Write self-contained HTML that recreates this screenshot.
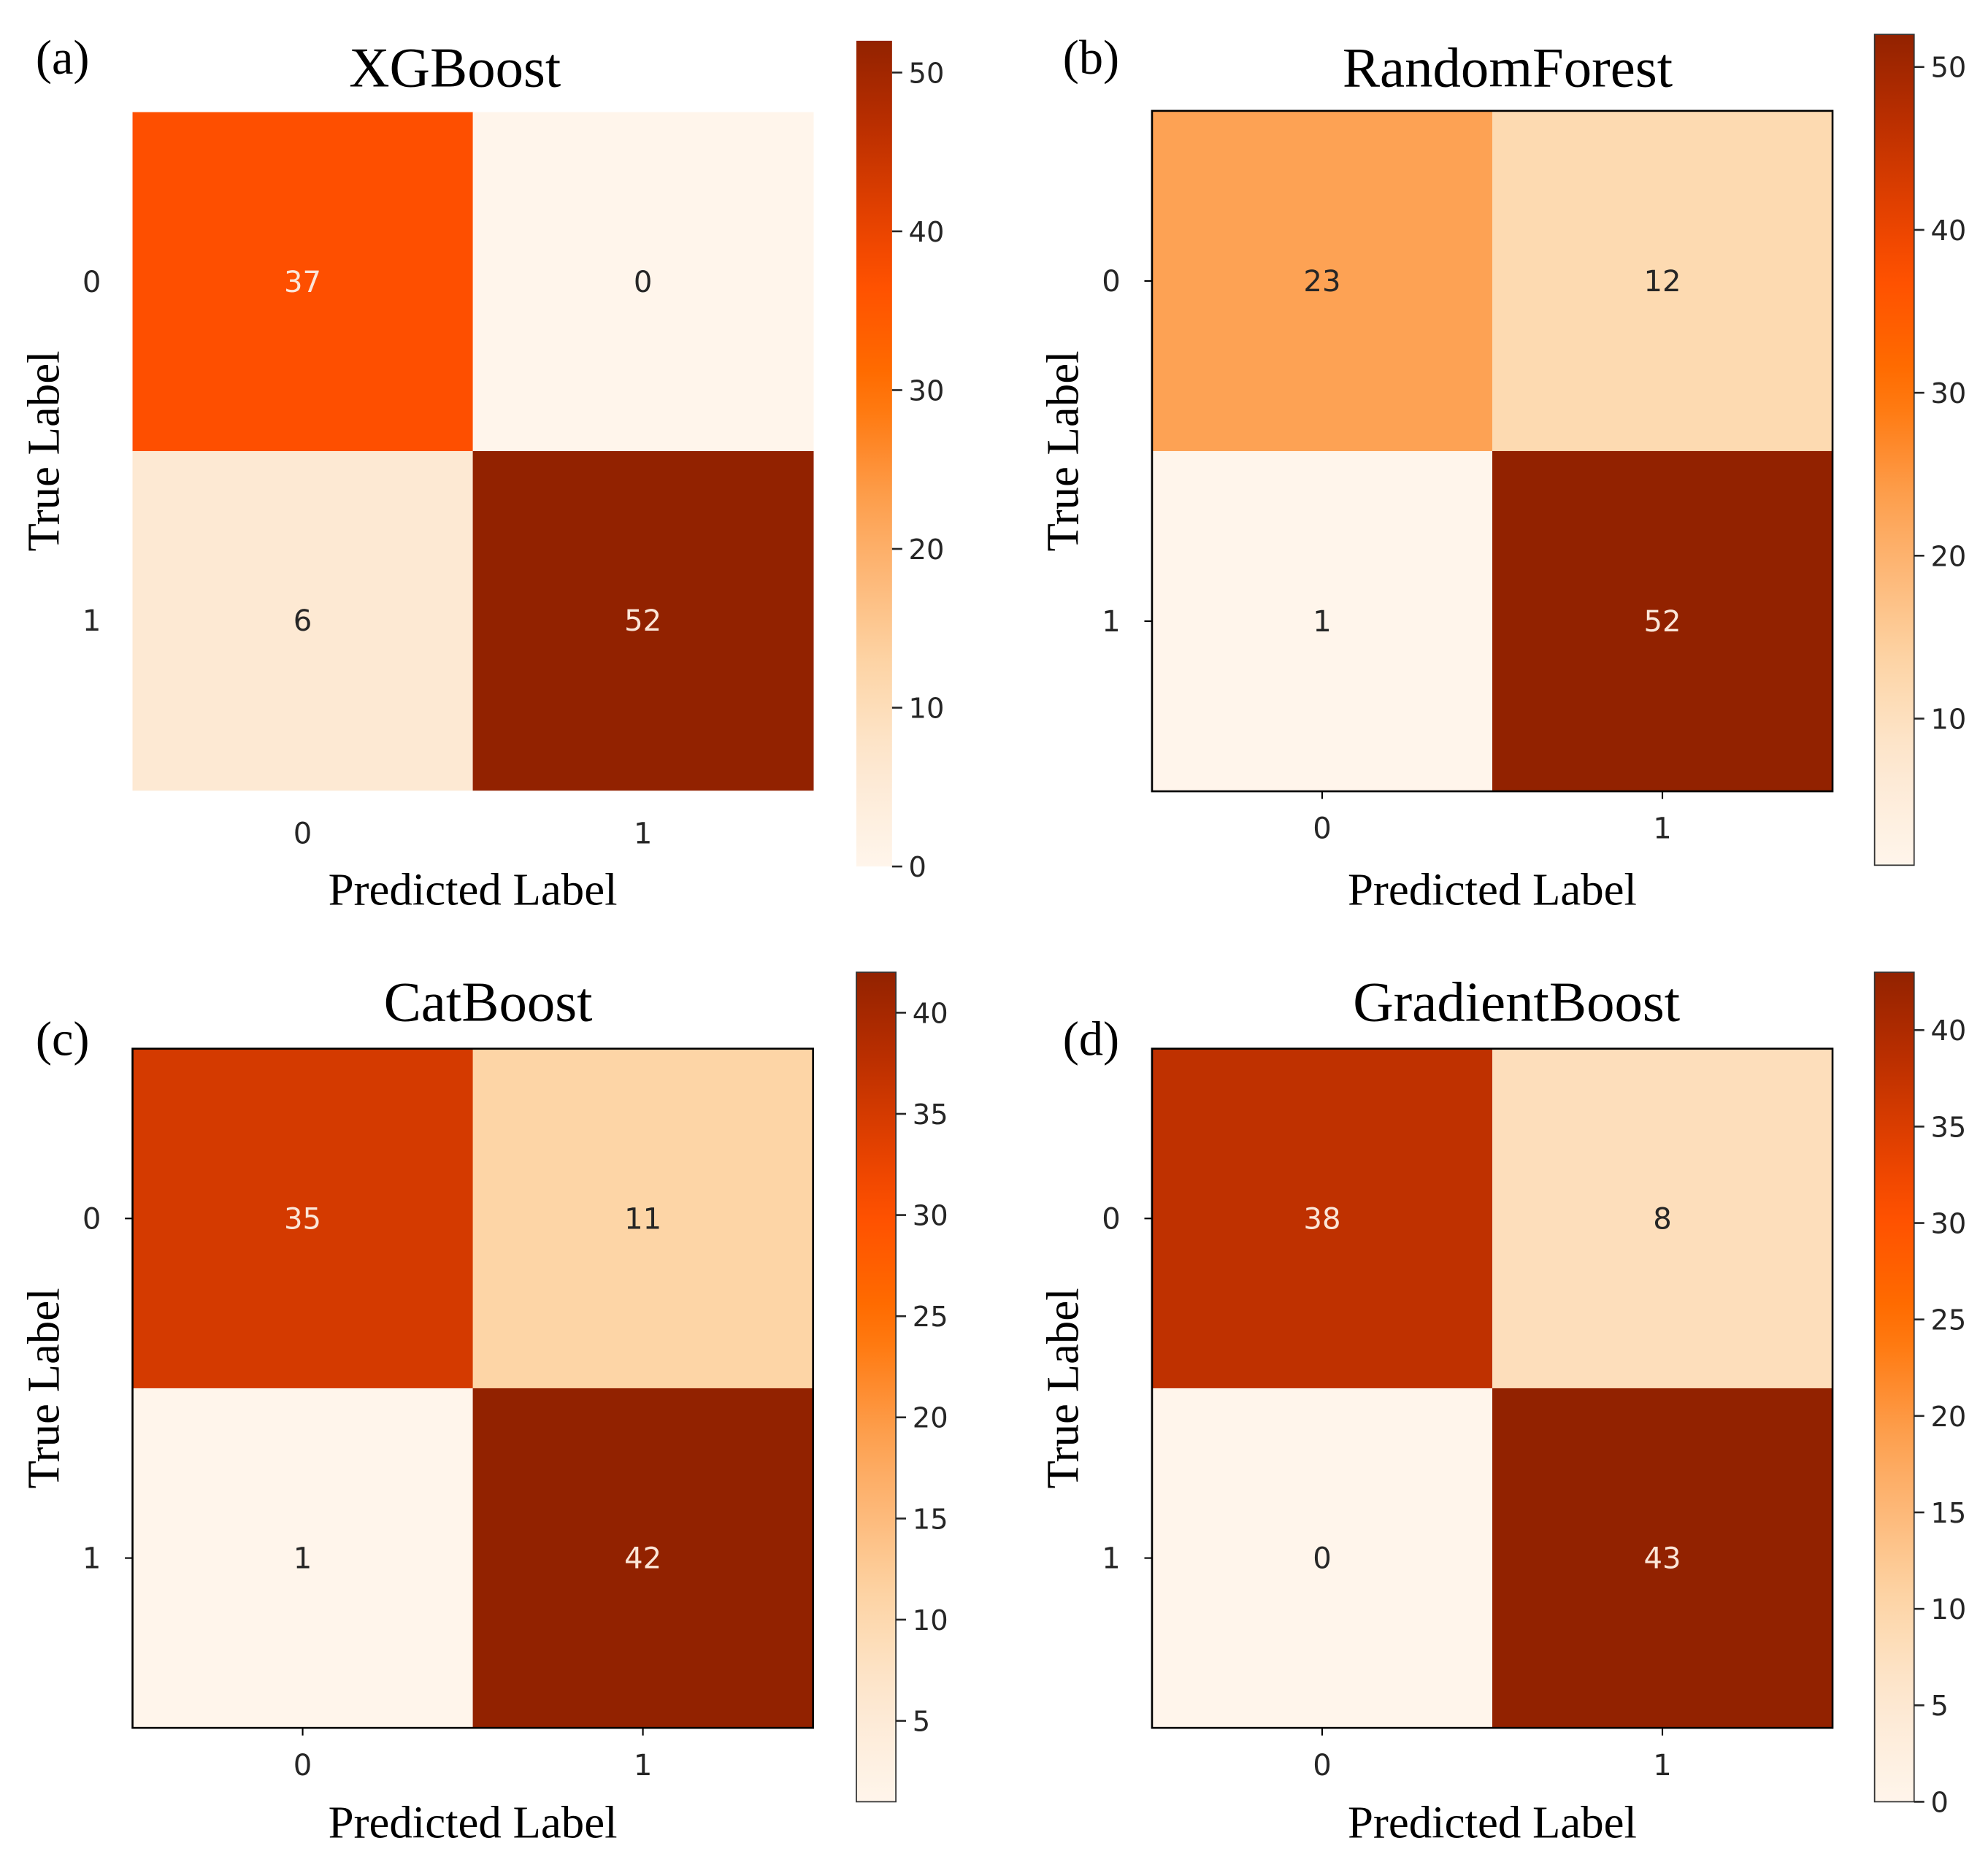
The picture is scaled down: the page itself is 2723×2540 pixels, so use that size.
<!DOCTYPE html>
<html><head><meta charset="utf-8"><style>
html,body{margin:0;padding:0;background:#fff;}
svg{display:block;}
</style></head><body>
<svg id="fig" xmlns="http://www.w3.org/2000/svg" width="2723" height="2540" viewBox="0 0 1560 1455" preserveAspectRatio="none">
<defs id="defs"></defs>
</svg>
<script>
// ---- data ----
const classLabels = ["0", "1"];
const titles = ["XGBoost", "RandomForest", "CatBoost", "GradientBoost"];
const panelLetters = ["(a)", "(b)", "(c)", "(d)"];
const cmXGB = [[37, 0], [6, 52]];
const cmRF = [[23, 12], [1, 52]];
const cmCat = [[35, 11], [1, 42]];
const cmGB = [[38, 8], [0, 43]];
const ticksXGB = [0, 10, 20, 30, 40, 50];
const ticksRF = [10, 20, 30, 40, 50];
const ticksCat = [5, 10, 15, 20, 25, 30, 35, 40];
const ticksGB = [0, 5, 10, 15, 20, 25, 30, 35, 40];

// ---- layout (not data) ----
const layouts = [
  {hx:104,hy:88,hw:534,hh:532,cx:672,cy:32,cw:28,ch:648,tx:357,ty:68,lx:28,ly:58,frame:false,xl:662,yl:72,data:cmXGB,ticks:ticksXGB},
  {hx:904,hy:87,hw:534,hh:534,cx:1471,cy:27,cw:31,ch:652,tx:1183,ty:68,lx:834,ly:58,frame:true,xl:658,yl:872,data:cmRF,ticks:ticksRF},
  {hx:104,hy:823,hw:534,hh:533,cx:672,cy:763,cw:31,ch:651,tx:383,ty:801,lx:28,ly:828,frame:true,xl:1393,yl:72,data:cmCat,ticks:ticksCat},
  {hx:904,hy:823,hw:534,hh:533,cx:1471,cy:763,cw:31,ch:651,tx:1190,ty:801,lx:834,ly:828,frame:true,xl:1393,yl:872,data:cmGB,ticks:ticksGB}
];

const stops = [[0,[255,245,235]],[0.12,[253,232,210]],[0.24,[253,214,168]],[0.44,[253,160,80]],[0.58,[255,112,0]],[0.71,[255,79,0]],[0.83,[212,58,0]],[0.9,[185,46,0]],[1,[146,34,0]]];
function cmap(t){
  t=Math.max(0,Math.min(1,t));
  for(let i=1;i<stops.length;i++){
    if(t<=stops[i][0]){
      const a=stops[i-1],b=stops[i],f=(t-a[0])/(b[0]-a[0]);
      const c=a[1].map((v,k)=>Math.round(v+(b[1][k]-v)*f));
      return `rgb(${c[0]},${c[1]},${c[2]})`;
    }
  }
  return 'rgb(146,34,0)';
}
const NS="http://www.w3.org/2000/svg";
const svg=document.getElementById('fig');
const defs=document.getElementById('defs');
function mk(tag,attrs,parent){const e=document.createElementNS(NS,tag);for(const k in attrs)e.setAttribute(k,attrs[k]);(parent||svg).appendChild(e);return e;}
const SERIF='"Liberation Serif", serif', SANS='"DejaVu Sans", "Liberation Sans", sans-serif';

layouts.forEach((L,p)=>{
  const g=mk('g',{});
  
  
  const flat=L.data.flat();
  const vmin=Math.min(...flat), vmax=Math.max(...flat);
  const norm=v=>(v-vmin)/(vmax-vmin);
  const cw=L.hw/2, chh=L.hh/2;
  L.data.forEach((row,r)=>row.forEach((v,c)=>{
    const rect=mk('rect',{x:L.hx+c*cw,y:L.hy+r*chh,width:cw+0.5,height:chh+0.5,fill:cmap(norm(v))},g);
    
    
    const t=mk('text',{x:L.hx+(c+0.5)*cw,y:L.hy+(r+0.5)*chh+8,'text-anchor':'middle','font-family':SANS,'font-size':23,fill:norm(v)>0.5?'#fbe6d8':'#262626'},g);
    t.textContent=v;
    
    
  }));
  if(L.frame){
    const f=mk('rect',{x:L.hx,y:L.hy,width:L.hw,height:L.hh,fill:'none',stroke:'#000','stroke-width':1.5},g);
    
    
  }
  classLabels.forEach((lab,i)=>{
    const xx=L.hx+(i+0.5)*cw, yy=L.hy+(i+0.5)*chh;
    if(L.frame){
      mk('line',{x1:xx,y1:L.hy+L.hh,x2:xx,y2:L.hy+L.hh+6,stroke:'#000','stroke-width':1.2},g);
      mk('line',{x1:L.hx-6,y1:yy,x2:L.hx,y2:yy,stroke:'#000','stroke-width':1.2},g);
    }
    const tx=mk('text',{x:xx,y:L.xl,'text-anchor':'middle','font-family':SANS,'font-size':23,fill:'#262626'},g);
    tx.textContent=lab;
    
    
    const ty=mk('text',{x:L.yl,y:yy+8,'text-anchor':'middle','font-family':SANS,'font-size':23,fill:'#262626'},g);
    ty.textContent=lab;
    
    
  });
  const xt=mk('text',{x:L.hx+L.hw/2,y:L.hy+L.hh+90+(L.hy>500?-3:0)+(p==0?0:-1),'text-anchor':'middle','font-family':SERIF,'font-size':36,fill:'#000'},g);
  xt.textContent='Predicted  Label';
  xt.setAttribute('xml:space','preserve');
  
  
  const yx=L.hx-58, ymid=L.hy+L.hh/2;
  const yt=mk('text',{x:yx,y:ymid,'text-anchor':'middle','font-family':SERIF,'font-size':36,fill:'#000',transform:`rotate(-90 ${yx} ${ymid})`},g);
  yt.textContent='True  Label';
  yt.setAttribute('xml:space','preserve');
  
  
  const tt=mk('text',{x:L.tx,y:L.ty,'text-anchor':'middle','font-family':SERIF,'font-size':44,fill:'#000'},g);
  tt.textContent=titles[p];
  
  
  const lt=mk('text',{x:L.lx,y:L.ly,'font-family':SERIF,'font-size':38,fill:'#000'},g);
  lt.textContent=panelLetters[p];
  
  
  // colorbar
  const gid='grad'+p;
  const lg=mk('linearGradient',{id:gid,x1:0,y1:1,x2:0,y2:0},defs);
  for(let i=0;i<=20;i++){mk('stop',{offset:i/20,'stop-color':cmap(i/20)},lg);}
  const cb=mk('rect',{x:L.cx,y:L.cy,width:L.cw,height:L.ch,fill:`url(#${gid})`,stroke:L.frame?'#333':'none','stroke-width':1},g);
  
  
  L.ticks.forEach(v=>{
    const y=L.cy+L.ch*(1-norm(v));
    mk('line',{x1:L.cx+L.cw,y1:y,x2:L.cx+L.cw+8,y2:y,stroke:'#262626','stroke-width':1.5},g);
    const t=mk('text',{x:L.cx+L.cw+13,y:y+8,'font-family':SANS,'font-size':22,fill:'#262626'},g);
    t.textContent=v;
    
    
  });
});
</script>
</body></html>
